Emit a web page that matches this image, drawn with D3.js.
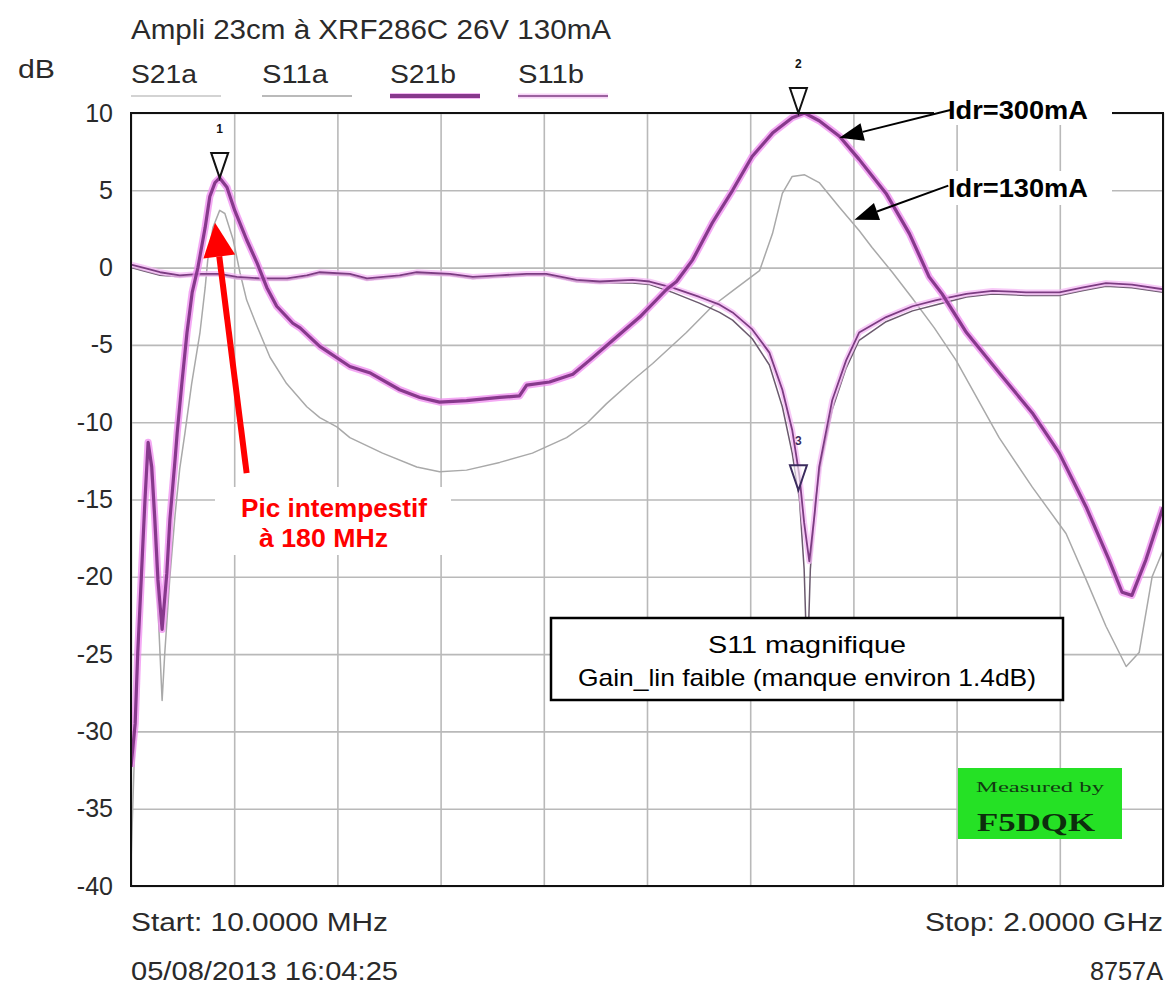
<!DOCTYPE html>
<html>
<head>
<meta charset="utf-8">
<script src="https://cdn.jsdelivr.net/npm/d3@7"></script>
<style>
body { margin: 0; background: #fff; }
svg { display: block; font-family: "Liberation Sans", Arial, sans-serif; }
</style>
</head>
<body>
<div id="chart"></div>
<script>
// traces as [frequency MHz, level dB]
const s21a = [[10,-38.5],[18,-30],[27,-22.5],[37,-15.5],[43,-11.8],[50,-14],[58,-19],[66,-25],[70,-28],[75,-25],[85,-20],[95,-16],[104,-13],[114,-10.7],[127,-7.5],[143,-4.2],[153,-1.3],[158,0.5],[168,2.6],[181,3.7],[191,3.5],[207,1.8],[220,-0.3],[233,-2.1],[253,-3.8],[278,-5.8],[310,-7.5],[349,-9.0],[374,-9.7],[407,-10.3],[432,-11],[495,-12],[561,-12.9],[605,-13.2],[657,-13.1],[721,-12.6],[784,-12],[850,-11],[888,-10.1],[927,-8.8],[977,-7.3],[1016,-6.2],[1081,-4.2],[1131,-2.5],[1170,-1.5],[1222,-0.2],[1247,2.2],[1266,4.8],[1285,5.9],[1309,6.0],[1337,5.5],[1376,3.9],[1414,2.4],[1439,1.3],[1478,-0.3],[1517,-2.0],[1559,-3.9],[1601,-6.0],[1684,-11.0],[1748,-14.2],[1813,-17.2],[1852,-20.2],[1890,-23.2],[1929,-25.8],[1954,-24.9],[1979,-20],[2000,-18.3]]

const s11a = [[10,0.0],[33,-0.2],[66,-0.5],[104,-0.6],[143,-0.5],[181,-0.5],[214,-0.7],[259,-0.8],[311,-0.8],[349,-0.6],[374,-0.4],[432,-0.5],[465,-0.8],[528,-0.6],[561,-0.4],[625,-0.5],[669,-0.7],[721,-0.6],[773,-0.5],[811,-0.5],[869,-0.9],[914,-1.0],[977,-1.0],[1010,-1.1],[1054,-1.6],[1106,-2.3],[1145,-2.9],[1170,-3.4],[1208,-4.6],[1241,-6.3],[1266,-9.0],[1285,-12.0],[1299,-15.0],[1308,-19.5],[1314,-26],[1320,-19.5],[1330,-15],[1341,-12.5],[1362,-9.2],[1389,-6.5],[1414,-4.7],[1466,-3.5],[1517,-2.8],[1563,-2.4],[1621,-1.9],[1671,-1.7],[1736,-1.8],[1800,-1.8],[1844,-1.5],[1890,-1.2],[1940,-1.3],[2000,-1.6]]

const s21b = [[10,-32.3],[18,-29.5],[23,-24.9],[27,-22.1],[33,-17.8],[37,-15],[43,-11.3],[50,-12.9],[56,-16.3],[62,-20.2],[70,-23.4],[79,-19.8],[85,-16.3],[95,-12.4],[99,-10.7],[108,-7.5],[118,-4.2],[128,-1.6],[139,0],[153,2.6],[162,4.6],[172,5.5],[181,5.8],[195,5.2],[210,3.7],[233,1.8],[253,0.3],[272,-1.3],[291,-2.5],[322,-3.6],[336,-3.9],[355,-4.5],[374,-5.1],[432,-6.4],[470,-6.8],[528,-7.9],[567,-8.4],[605,-8.7],[657,-8.6],[721,-8.4],[759,-8.3],[773,-7.6],[817,-7.4],[862,-6.9],[894,-6.0],[939,-4.7],[991,-3.2],[1043,-1.4],[1062,-0.9],[1093,0.5],[1131,2.9],[1170,5.0],[1208,7.2],[1247,8.7],[1285,9.7],[1309,10],[1337,9.5],[1376,8.5],[1414,7.0],[1466,4.8],[1511,2.2],[1549,-0.6],[1574,-1.7],[1621,-4.2],[1684,-6.8],[1748,-9.4],[1800,-12],[1852,-15.5],[1896,-18.9],[1921,-21],[1940,-21.2],[1967,-18.9],[2000,-15.5]]

const s11b = [[10,0.2],[33,0],[66,-0.3],[104,-0.5],[143,-0.4],[181,-0.4],[214,-0.6],[259,-0.7],[311,-0.7],[349,-0.5],[374,-0.3],[432,-0.4],[465,-0.7],[528,-0.5],[561,-0.3],[625,-0.4],[669,-0.6],[721,-0.5],[773,-0.4],[811,-0.4],[869,-0.8],[914,-0.9],[977,-0.8],[1010,-0.9],[1054,-1.3],[1106,-1.9],[1145,-2.4],[1170,-2.9],[1208,-4.0],[1241,-5.5],[1266,-7.9],[1285,-10.5],[1299,-13.5],[1308,-16.5],[1318,-19],[1328,-16],[1337,-12.9],[1362,-8.6],[1389,-6.0],[1414,-4.2],[1466,-3.2],[1517,-2.5],[1563,-2.1],[1621,-1.7],[1671,-1.5],[1736,-1.6],[1800,-1.6],[1844,-1.3],[1890,-1.0],[1940,-1.1],[2000,-1.4]]

// markers
const markerIds = ["1", "2", "3"]
const markerFreqs = [181, 1297, 1297]
const markerLevels = [5.8, 10, -14.4]

// axes
const freqGrid = [10, 209, 408, 607, 806, 1005, 1204, 1403, 1602, 1801, 2000]
const dbTicks = [10, 5, 0, -5, -10, -15, -20, -25, -30, -35, -40]
const legendNames = ["S21a", "S11a", "S21b", "S11b"]

// texts
const title = "Ampli 23cm à XRF286C 26V 130mA"
const footLeft = ["Start: 10.0000 MHz", "05/08/2013 16:04:25"]
const footRight = ["Stop: 2.0000 GHz", "8757A"]
const boxLines = ["S11 magnifique", "Gain_lin faible (manque environ 1.4dB)"]
const picLines = ["Pic intempestif", "à 180 MHz"]
const idrLabels = ["Idr=300mA", "Idr=130mA"]

// how each trace is drawn
const traceStyle = {
    S21a: {color: "#a9a9a9", width: 1.5, halo: null},
    S11a: {color: "#6b5a6e", width: 1.5, halo: null},
    S21b: {color: "#87398c", width: 3.2, halo: "#f08cf0"},
    S11b: {color: "#7c3c82", width: 1.8, halo: "#f4b8f4"}
}

/**
 * Draws the whole analyser screen.
 */
function chart() {
    const W = 1167, H = 986
    const left = 131, right = 1163, top = 113, bottom = 886

    const svg = d3.select("#chart").append("svg").attr("width", W).attr("height", H)
    svg.append("rect").attr("width", W).attr("height", H).attr("fill", "#fff")

    const x = d3.scaleLinear().domain([10, 2000]).range([left, right])
    const y = d3.scaleLinear().domain([-40, 10]).range([bottom, top])

    // grid lines
    const gx = svg.append("g").attr("transform", `translate(0,${bottom})`)
        .call(d3.axisBottom(x).tickValues(freqGrid).tickSize(-(bottom - top)).tickFormat(""))
    const gy = svg.append("g").attr("transform", `translate(${left},0)`)
        .call(d3.axisLeft(y).tickValues(dbTicks).tickSize(-(right - left)).tickFormat(""))
    for(const g of [gx, gy]) {
        g.select(".domain").remove()
        g.selectAll("line").attr("stroke", "#b9b9b9").attr("stroke-width", 1.6)
    }

    // level labels on the left, plain hyphen as on the analyser
    const ya = svg.append("g").attr("transform", `translate(113,0)`)
        .call(d3.axisLeft(y).tickValues(dbTicks).tickSize(0).tickPadding(0).tickFormat(d => String(d)))
    ya.select(".domain").remove()
    ya.selectAll("text").attr("font-size", 25).attr("fill", "#2a2a2a")
        .style("font-family", "'Liberation Sans', Arial, sans-serif")

    // traces, clipped to the screen
    svg.append("clipPath").attr("id", "clip").append("rect")
        .attr("x", left).attr("y", top).attr("width", right - left).attr("height", bottom - top)
    const traces = svg.append("g").attr("clip-path", "url(#clip)")
    const line = d3.line().x(d => x(d[0])).y(d => y(d[1]))
    const series = [["S21a", s21a], ["S11a", s11a], ["S11b", s11b], ["S21b", s21b]]
    series.forEach(([name, data]) => {
        const st = traceStyle[name]
        if(st.halo)
            traces.append("path").attr("d", line(data)).attr("fill", "none")
                .attr("stroke", st.halo).attr("stroke-width", st.width + 4).attr("opacity", 0.75)
                .attr("stroke-linejoin", "round")
        traces.append("path").attr("d", line(data)).attr("fill", "none")
            .attr("stroke", st.color).attr("stroke-width", st.width).attr("stroke-linejoin", "round")
    })

    // screen frame
    svg.append("rect").attr("x", left).attr("y", top).attr("width", right - left).attr("height", bottom - top)
        .attr("fill", "none").attr("stroke", "#111").attr("stroke-width", 2)

    // markers: inverted triangles sitting on the trace
    markerIds.forEach((id, i) => {
        const mx = x(markerFreqs[i]), my = y(markerLevels[i])
        const c = id === "3" ? "#3b2b5e" : "#111"
        svg.append("path")
            .attr("d", `M${mx - 8.5},${my - 25}H${mx + 8.5}L${mx},${my}Z`)
            .attr("fill", "#fff").attr("fill-opacity", 0.6).attr("stroke", c).attr("stroke-width", 2)
        svg.append("text").attr("x", mx).attr("y", my - 45).attr("text-anchor", "middle")
            .attr("font-size", 12).attr("font-weight", "bold").attr("fill", c).text(id)
    })

    // title, unit and legend
    label(svg, title, left, 39, 27, 480)
    label(svg, "dB", 18, 78, 26, 37)
    const legendX = [131, 262, 390, 518]
    legendNames.forEach((n, i) => {
        label(svg, n, legendX[i], 83, 26, 66)
        const st = traceStyle[n]
        const under = n === "S21a" ? "#c4c4c4" : n === "S11a" ? "#a3a3a3" : st.color
        if(st.halo)
            svg.append("line").attr("x1", legendX[i]).attr("x2", legendX[i] + 90).attr("y1", 96).attr("y2", 96)
                .attr("stroke", st.halo).attr("stroke-width", st.width + 3).attr("opacity", 0.6)
        svg.append("line").attr("x1", legendX[i]).attr("x2", legendX[i] + 90).attr("y1", 96).attr("y2", 96)
            .attr("stroke", under).attr("stroke-width", n === "S21b" ? 4 : 1.6)
    })

    // footer
    label(svg, footLeft[0], left, 931, 26, 257)
    label(svg, footLeft[1], left, 980, 26, 267)
    label(svg, footRight[0], right, 931, 26, 238, "end")
    label(svg, footRight[1], right, 980, 26, 73, "end")

    annotations(svg, x, y)
}

/**
 * Writes a text squeezed or stretched to a given width, like the analyser font.
 */
function label(g, str, x, y, size, len, anchor = "start", weight = "normal", fill = "#2a2a2a", family = null) {
    const t = g.append("text").attr("x", x).attr("y", y).attr("font-size", size)
        .attr("text-anchor", anchor).attr("font-weight", weight).attr("fill", fill)
        .attr("textLength", len).attr("lengthAdjust", "spacingAndGlyphs").text(str)
    if(family)
        t.style("font-family", family)
    return t
}

/**
 * Draws an arrow with a filled head at (x2, y2).
 */
function arrow(g, x1, y1, x2, y2, color, width, headLen, headHalf) {
    const a = Math.atan2(y2 - y1, x2 - x1)
    const bx = x2 - headLen * Math.cos(a), by = y2 - headLen * Math.sin(a)
    g.append("line").attr("x1", x1).attr("y1", y1).attr("x2", bx).attr("y2", by)
        .attr("stroke", color).attr("stroke-width", width)
    const px = -Math.sin(a) * headHalf, py = Math.cos(a) * headHalf
    g.append("path").attr("d", `M${x2},${y2}L${bx + px},${by + py}L${bx - px},${by - py}Z`).attr("fill", color)
}

/**
 * Adds the hand-made notes pasted over the screenshot.
 */
function annotations(svg, x, y) {
    const g = svg.append("g")

    // red note on the spurious peak
    g.append("rect").attr("x", 215).attr("y", 487).attr("width", 236).attr("height", 68).attr("fill", "#fff")
    arrow(g, x(233), y(-13.3), x(172), y(2.9), "#ff0000", 6, 34, 16)
    label(g, picLines[0], 241, 517, 25, 186, "start", "bold", "#ff0000")
    label(g, picLines[1], 259, 547, 25, 129, "start", "bold", "#ff0000")

    // bias current labels
    g.append("rect").attr("x", 934).attr("y", 93).attr("width", 178).attr("height", 32).attr("fill", "#fff")
    g.append("rect").attr("x", 934).attr("y", 171).attr("width", 178).attr("height", 34).attr("fill", "#fff")
    label(g, idrLabels[0], 948, 119, 25, 140, "start", "bold", "#000")
    label(g, idrLabels[1], 948, 197, 25, 140, "start", "bold", "#000")
    arrow(g, x(1590), y(10.2), x(1376), y(8.4), "#000", 2, 24, 9)
    arrow(g, x(1586), y(5.3), x(1405), y(3.1), "#000", 2, 24, 9)

    // comment box
    g.append("rect").attr("x", 551).attr("y", 618).attr("width", 512).attr("height", 82)
        .attr("fill", "#fff").attr("stroke", "#000").attr("stroke-width", 2.5)
    label(g, boxLines[0], 807, 653, 24, 198, "middle", "normal", "#000")
    label(g, boxLines[1], 807, 686, 24, 458, "middle", "normal", "#000")

    // green stamp
    g.append("rect").attr("x", 958).attr("y", 768).attr("width", 164).attr("height", 71).attr("fill", "#25e125")
    label(g, "Measured by", 1040, 792, 15, 128, "middle", "normal", "#123c12", "'Liberation Serif', serif")
    label(g, "F5DQK", 1036, 831, 26, 118, "middle", "bold", "#0d2e0d", "'Liberation Serif', serif")
}

chart()
</script>
</body>
</html>
